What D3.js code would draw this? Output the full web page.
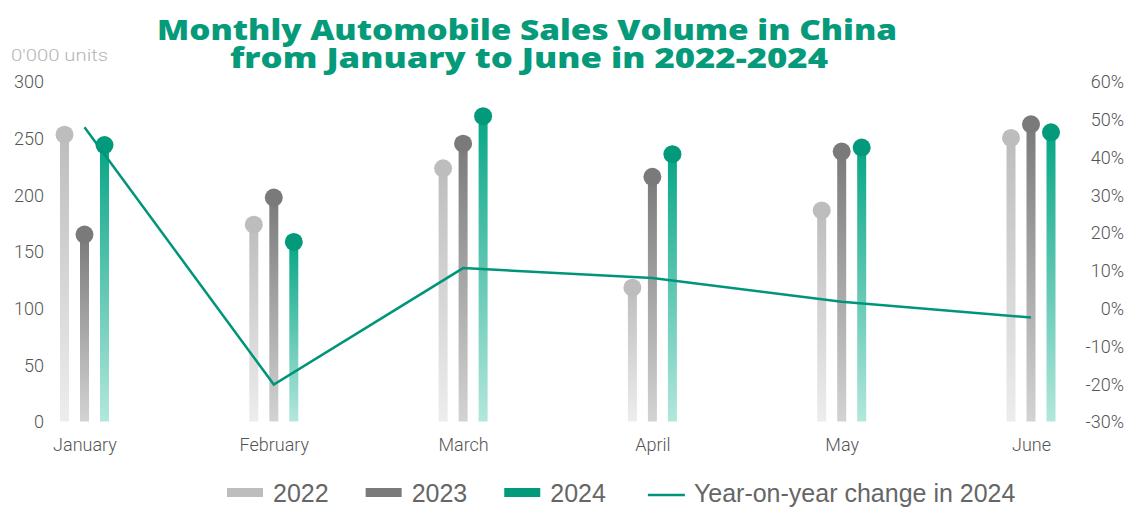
<!DOCTYPE html>
<html>
<head>
<meta charset="utf-8">
<script src="https://cdn.jsdelivr.net/npm/d3@7"></script>
<style>
  body { margin: 0; background: #fff; }
  svg { display: block; }
  .axis text { font-family: Roboto, "Liberation Sans", sans-serif; font-weight: 300; font-size: 18px; fill: #555; }
  .axis .domain { display: none; }
</style>
</head>
<body>
<svg id="chart" width="1126" height="508"></svg>
<script>
// monthly sales, 0'000 units
var months = ["January", "February", "March", "April", "May", "June"];
var years = ["2022", "2023", "2024"];
var sales2022 = [253.1, 173.7, 223.4, 118.1, 186.2, 250.2];
var sales2023 = [164.9, 197.6, 245.1, 215.9, 238.2, 262.2];
var sales2024 = [243.9, 158.4, 269.4, 235.9, 241.7, 255.2];
var yoy2024 = [47.9, -20.2, 10.6, 8.0, 1.7, -2.5];
var leftTicks = [0, 50, 100, 150, 200, 250, 300];
var rightTicks = [-30, -20, -10, 0, 10, 20, 30, 40, 50, 60];

var series = [sales2022, sales2023, sales2024];

var svg = d3.select("#chart");

// colours
var topColor = ["#bdbdbd", "#7a7a7a", "#07a686"],
    bottomColor = ["#ededed", "#d3d3d3", "#b3e7dc"],
    dotColor = ["#bdbdbd", "#7a7a7a", "#039a7b"],
    lineColor = "#00957a";

// scales
var x = d3.scalePoint().domain(months).range([84.5, 1031]),
    off = d3.scalePoint().domain(years).range([-20, 20]),
    y = d3.scaleLinear().domain([0, 300]).range([421.5, 81.5]),
    y2 = d3.scaleLinear().domain([-30, 60]).range([421.5, 81.5]);

var defs = svg.append("defs");
years.forEach(function(yr, i) {
    var grad = defs.append("linearGradient")
        .attr("id", "grad" + yr)
        .attr("x1", 0).attr("y1", 0).attr("x2", 0).attr("y2", 1);
    grad.append("stop").attr("offset", "0%").attr("stop-color", topColor[i]);
    grad.append("stop").attr("offset", "100%").attr("stop-color", bottomColor[i]);
});

// title
var title = svg.append("g")
    .attr("text-anchor", "middle")
    .style("font-family", "'Open Sans', sans-serif")
    .style("font-weight", 800)
    .style("font-size", "29px")
    .style("fill", "#059a7a");
title.append("text").attr("x", 527).attr("y", 40)
    .attr("textLength", 740).attr("lengthAdjust", "spacingAndGlyphs")
    .text("Monthly Automobile Sales Volume in China");
title.append("text").attr("x", 529).attr("y", 68)
    .attr("textLength", 598).attr("lengthAdjust", "spacingAndGlyphs")
    .text("from January to June in 2022-2024");

svg.append("text")
    .attr("x", 11).attr("y", 61)
    .attr("textLength", 97).attr("lengthAdjust", "spacingAndGlyphs")
    .style("font-family", "Roboto, sans-serif")
    .style("font-weight", 300)
    .style("font-size", "17px")
    .style("fill", "#b5b5b5")
    .text("0'000 units");

// axes
svg.append("g")
    .attr("class", "axis")
    .attr("transform", "translate(44,0)")
    .call(d3.axisLeft(y).tickValues(leftTicks).tickSize(0).tickPadding(0))
    .selectAll("text").attr("dy", "0.35em");

svg.append("g")
    .attr("class", "axis")
    .attr("transform", "translate(1124,0)")
    .call(d3.axisLeft(y2).tickValues(rightTicks).tickSize(0).tickPadding(0)
        .tickFormat(function(d) { return d + "%"; }))
    .selectAll("text").attr("dy", "0.35em");

svg.append("g")
    .attr("class", "axis")
    .attr("transform", "translate(0,421)")
    .call(d3.axisBottom(x).tickSize(0).tickPadding(17));

// lollipops
years.forEach(function(yr, i) {
    var g = svg.append("g").attr("class", "series s" + yr);
    var vals = series[i];
    g.selectAll("rect")
        .data(vals)
        .enter()
        .append("rect")
        .attr("x", function(d, j) { return x(months[j]) + off(yr) - 4.5; })
        .attr("y", function(d) { return y(d); })
        .attr("width", 9)
        .attr("height", function(d) { return y(0) - y(d); })
        .attr("fill", "url(#grad" + yr + ")");
    g.selectAll("circle")
        .data(vals)
        .enter()
        .append("circle")
        .attr("cx", function(d, j) { return x(months[j]) + off(yr); })
        .attr("cy", function(d) { return y(d); })
        .attr("r", 9)
        .attr("fill", dotColor[i]);
});

// yoy line
var line = d3.line()
    .x(function(d, j) { return x(months[j]); })
    .y(function(d) { return y2(d); });

svg.append("path")
    .datum(yoy2024)
    .attr("d", line)
    .attr("fill", "none")
    .attr("stroke", lineColor)
    .attr("stroke-width", 2.5);

// legend
var legend = svg.append("g")
    .style("font-family", "'Liberation Sans', sans-serif")
    .style("font-size", "25px")
    .style("fill", "#666");

var legendItems = [
    {label: "2022", color: dotColor[0], type: "rect"},
    {label: "2023", color: dotColor[1], type: "rect"},
    {label: "2024", color: dotColor[2], type: "rect"},
    {label: "Year-on-year change in 2024", color: lineColor, type: "line"}
];

var lx = 227;
legendItems.forEach(function(it, k) {
    if (it.type == "rect") {
        legend.append("rect")
            .attr("x", lx).attr("y", 488)
            .attr("width", 36).attr("height", 9)
            .attr("fill", it.color);
    } else {
        legend.append("line")
            .attr("x1", lx).attr("x2", lx + 37)
            .attr("y1", 495).attr("y2", 495)
            .attr("stroke", it.color)
            .attr("stroke-width", 2.5);
    }
    var t = legend.append("text")
        .attr("x", lx + 46).attr("y", 502)
        .text(it.label);
    lx += 46 + t.node().getComputedTextLength() + (k == 2 ? 42 : 37);
});
</script>
</body>
</html>
